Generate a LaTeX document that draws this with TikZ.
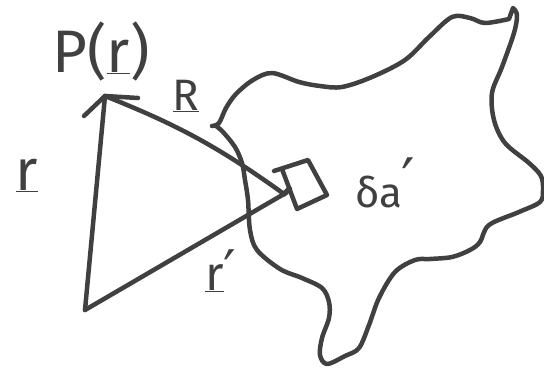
\documentclass[tikz,border=0pt]{standalone}
\usepackage{fontspec}
\setmainfont{Fira Sans}
\newfontfamily\djv{DejaVu Sans}
\usetikzlibrary{calc}
\definecolor{ink}{HTML}{404040}
\begin{document}
\begin{tikzpicture}[x=1pt,y=-1pt,line cap=round,line join=round,
  pen/.style={draw=ink,line width=4.5pt},
  lab/.style={text=ink,inner sep=0pt,anchor=base}]
\useasboundingbox (0,0) rectangle (544,370);
% points
\coordinate (O) at (85,310);
\coordinate (P) at (105,96);
\coordinate (S) at (284,194);
\coordinate (A0) at (274,171);
\coordinate (A) at (282,169);
\coordinate (B) at (308,160);
\coordinate (C) at (327,195);
\coordinate (D) at (297,209);
\coordinate (M) at ($(A)!0.5!(D)$);
% region outline
\draw[pen] plot[smooth,tension=0.55] coordinates {(212,126) (219,123) (226,108) (236,94) (253,80) (272,73) (299,82) (320,86) (342,87) (372,77) (405,60) (429,37) (452,17) (470,18) (485,23) (509,19)}
  -- plot[smooth,tension=0.55] coordinates {(513,8) (517,15) (514,33) (502,67) (492,93) (494,120) (505,143) (529,163) (541,176) (543,190) (540,202) (519,212) (489,225) (480,242) (470,250) (452,257) (430,259) (415,260) (395,272) (379,298) (369,325) (359,348) (345,356) (327,364) (320,355) (322,338) (329,318) (329,302) (322,288) (302,278) (280,269) (257,250) (250,230) (248,200) (245,180) (242,163) (235,147) (223,132) (216,126)};
% element
\draw[pen] (A0) -- (B) -- (C) -- (D) -- (A);
% vectors
\draw[pen] (O) -- (P);
\draw[pen] (O) -- (S);
\draw[pen] (S) to[bend right=7] (P);
\draw[pen,line width=5.5pt] (S) -- (M);
\draw[pen] (P) -- ++(-21,20);
\draw[pen] (P) -- ++(33,2);
% labels
\node[lab,font=\fontsize{60}{62}\selectfont] (Plab) at (101,72) {P(\underline{r})};
\node[lab,font=\fontsize{58}{60}\selectfont] (rlab) at (27,190) {\underline{r}};
\node[lab,font=\fontsize{44}{48}\selectfont] (Rlab) at (186,110) {\underline{R}};
\node[lab,font=\fontsize{48}{50}\selectfont] (rplab) at (221,290) {\underline{r}{\djv\fontsize{56}{58}\selectfont ′}};
\node[lab,anchor=base west,font=\fontsize{42}{44}\selectfont] (dalab) at (355,207) {δa{\djv\fontsize{60}{62}\selectfont\raisebox{6pt}{′}}};
\end{tikzpicture}
\end{document}
